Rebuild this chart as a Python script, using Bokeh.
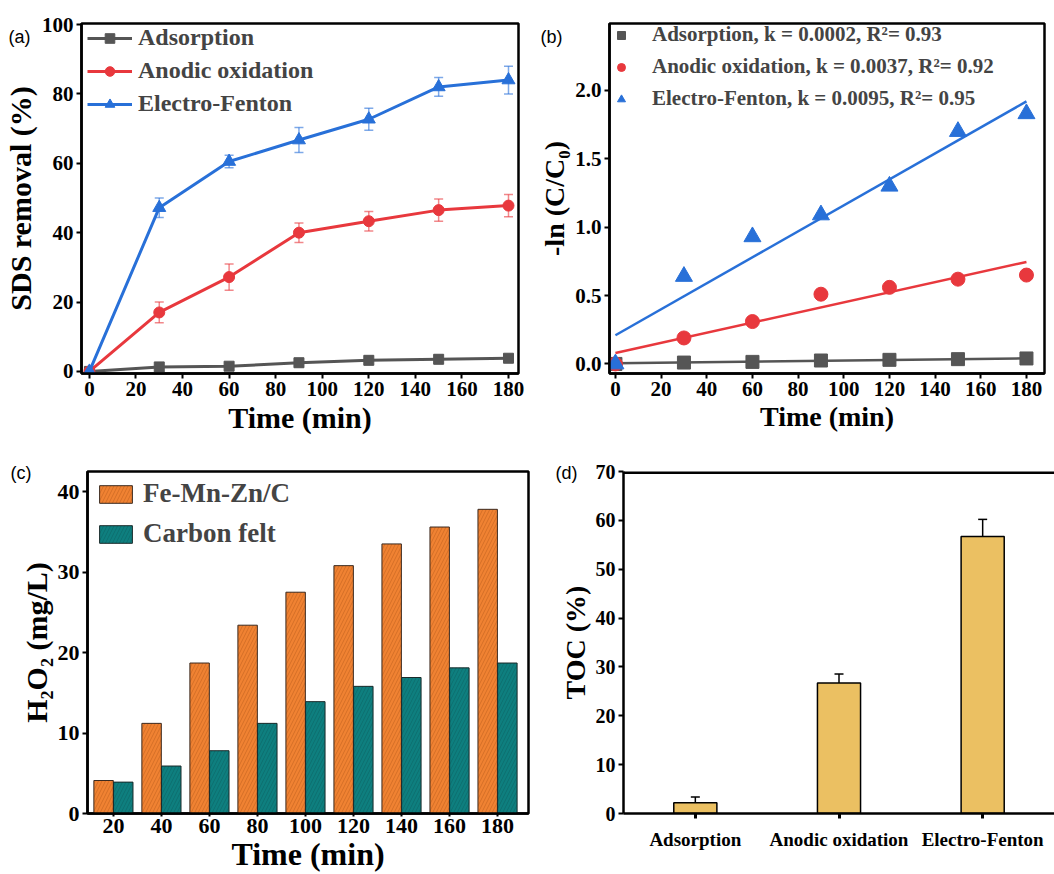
from bokeh.plotting import figure
from bokeh.layouts import row, column
from bokeh.models import (Legend, LegendItem, Whisker, TeeHead, ColumnDataSource, Label,
                          FixedTicker, Range1d, FactorRange, NumeralTickFormatter, Span)
from bokeh.transform import dodge
from bokeh.embed import file_html
from bokeh.resources import INLINE

# ---------------- data ----------------
time_min = [0, 30, 60, 90, 120, 150, 180]
ads_removal = [0, 1.3, 1.5, 2.5, 3.2, 3.5, 3.8]
ads_err = [0, 0.6, 0.8, 1.2, 1.2, 1.2, 1.0]
ao_removal = [0, 17.0, 27.2, 40.0, 43.3, 46.5, 47.8]
ao_err = [0, 3.0, 3.8, 2.8, 2.8, 3.2, 3.2]
ef_removal = [0, 47.2, 60.5, 66.7, 72.7, 82.0, 84.0]
ef_err = [0, 2.8, 1.8, 3.6, 3.2, 2.7, 4.0]

ads_ln = [0, 0.01, 0.015, 0.025, 0.03, 0.035, 0.04]
ao_ln = [0, 0.19, 0.31, 0.51, 0.56, 0.62, 0.65]
ef_ln = [0, 0.64, 0.93, 1.09, 1.30, 1.70, 1.83]
k_vals = [0.0002, 0.0037, 0.0095]
fit_intercepts = [0.005, 0.08, 0.21]
fit_range = [0, 180]
kinetic_labels = ["Adsorption, k = 0.0002, R\u00b2= 0.93",
                  "Anodic oxidation, k = 0.0037, R\u00b2= 0.92",
                  "Electro-Fenton, k = 0.0095, R\u00b2= 0.95"]

h2o2_time = [20, 40, 60, 80, 100, 120, 140, 160, 180]
femnzn_h2o2 = [4.1, 11.2, 18.7, 23.4, 27.5, 30.8, 33.5, 35.6, 37.8]
cfelt_h2o2 = [3.9, 5.9, 7.8, 11.2, 13.9, 15.8, 16.9, 18.1, 18.7]

toc_cats = ["Adsorption", "Anodic oxidation", "Electro-Fenton"]
toc_vals = [2.2, 26.7, 56.7]
toc_err = [1.2, 1.85, 3.5]

SERIF = "Liberation Serif"
SANS = "Liberation Sans"
GRAY, RED, BLUE = "#555555", "#E8383D", "#2870D8"
ORANGE, TEAL, GOLD = "#F08232", "#0E7F7F", "#EBC062"


def style(p, tick_px, label_px, outline=True):
    for ax in list(p.xaxis) + list(p.yaxis):
        ax.axis_line_width = 2.5
        ax.axis_line_color = "black"
        ax.major_tick_line_width = 2
        ax.major_tick_out = 5
        ax.major_tick_in = 0
        ax.minor_tick_line_color = None
        ax.major_label_text_font = SERIF
        ax.major_label_text_font_style = "bold"
        ax.major_label_text_font_size = f"{tick_px}px"
        ax.major_label_text_color = "black"
        ax.axis_label_text_font = SERIF
        ax.axis_label_text_font_style = "bold"
        ax.axis_label_text_font_size = f"{label_px}px"
        ax.axis_label_text_color = "black"
        ax.axis_label_standoff = 2
        ax.major_label_standoff = 3
    p.xgrid.visible = False
    p.ygrid.visible = False
    if outline:
        p.outline_line_color = "black"
        p.outline_line_width = 2.5
    else:
        p.outline_line_color = None
    p.background_fill_color = "white"
    p.border_fill_color = "white"


def panel_label(p, txt, x, y):
    # placed in the (empty) top side panel so that it is not clipped by the frame
    p.add_layout(Label(x=x, y=y, x_units="canvas", y_units="canvas", text=txt,
                       text_font=SANS, text_font_size="18px", text_line_height=0.8,
                       text_baseline="middle", text_align="left", text_color="black"), "above")


# ---------------- (a) ----------------
pa = figure(width=527, height=440, output_backend="svg", toolbar_location=None,
            x_range=Range1d(-3.4, 184.3), y_range=Range1d(-0.6, 100.3),
            min_border_left=79, min_border_right=9, min_border_top=23, min_border_bottom=67)
items = []
for name, vals, errs, col, marker, size in [
        ("Adsorption", ads_removal, ads_err, GRAY, "square", 10),
        ("Anodic oxidation", ao_removal, ao_err, RED, "circle", 11),
        ("Electro-Fenton", ef_removal, ef_err, BLUE, "triangle", 13)]:
    src = ColumnDataSource(dict(t=time_min, v=vals,
                                lo=[a - b for a, b in zip(vals, errs)],
                                hi=[a + b for a, b in zip(vals, errs)]))
    pa.add_layout(Whisker(base="t", upper="hi", lower="lo", source=src,
                          line_color=col, line_alpha=0.6, line_width=1.5,
                          upper_head=TeeHead(size=9, line_color=col, line_alpha=0.6, line_width=1.5),
                          lower_head=TeeHead(size=9, line_color=col, line_alpha=0.6, line_width=1.5)))
    ln = pa.line("t", "v", source=src, line_color=col, line_width=3)
    sc = pa.scatter("t", "v", source=src, marker=marker, size=size, fill_color=col, line_color=col)
    items.append(LegendItem(label=name, renderers=[ln, sc]))
pa.xaxis.axis_label = "Time (min)"
pa.yaxis.axis_label = "SDS removal (%)"
pa.xaxis.ticker = FixedTicker(ticks=[0, 20, 40, 60, 80, 100, 120, 140, 160, 180])
pa.yaxis.ticker = FixedTicker(ticks=[0, 20, 40, 60, 80, 100])
style(pa, 21, 30)
lega = Legend(items=items, location=(6, 256), glyph_width=45, glyph_height=24, label_height=24,
              spacing=6, padding=4, margin=0, label_standoff=6,
              label_text_font=SERIF, label_text_font_style="bold", label_text_font_size="24px",
              background_fill_alpha=0, border_line_color=None)
pa.add_layout(lega)
panel_label(pa, "(a)", 8, 36)

# ---------------- (b) ----------------
pb = figure(width=527, height=440, output_backend="svg", toolbar_location=None,
            x_range=Range1d(-2.6, 187.9), y_range=Range1d(-0.07, 2.49),
            min_border_left=82, min_border_right=10, min_border_top=17, min_border_bottom=63)
items_b = []
for idx, (vals, col, marker, size) in enumerate([
        (ads_ln, GRAY, "square", 13),
        (ao_ln, RED, "circle", 14),
        (ef_ln, BLUE, "triangle", 17)]):
    k = k_vals[idx]
    b0 = fit_intercepts[idx]
    pb.line(fit_range, [b0 + k * t for t in fit_range], line_color=col, line_width=2.5)
    sc = pb.scatter(time_min, vals, marker=marker, size=size, fill_color=col, line_color=col)
    items_b.append(LegendItem(label=kinetic_labels[idx], renderers=[sc]))
pb.xaxis.axis_label = "Time (min)"
pb.yaxis.axis_label = "-ln (C/C\u2080)"
pb.xaxis.ticker = FixedTicker(ticks=[0, 20, 40, 60, 80, 100, 120, 140, 160, 180])
pb.yaxis.ticker = FixedTicker(ticks=[0, 0.5, 1.0, 1.5, 2.0])
pb.yaxis.formatter = NumeralTickFormatter(format="0.0")
style(pb, 21, 28)
legb = Legend(items=items_b, location=(2, 262), glyph_width=20, glyph_height=24, label_height=24,
              spacing=7, padding=4, margin=0, label_standoff=21,
              label_text_font=SERIF, label_text_font_style="bold", label_text_font_size="21px",
              background_fill_alpha=0, border_line_color=None)
pb.add_layout(legb)
panel_label(pb, "(b)", 13, 36)

# ---------------- (c) ----------------
pc = figure(width=530, height=434, output_backend="svg", toolbar_location=None,
            x_range=Range1d(9.2, 192.9), y_range=Range1d(0, 42.5),
            min_border_left=87, min_border_right=2, min_border_top=23, min_border_bottom=58)
srcc = ColumnDataSource(dict(t=h2o2_time, fe=femnzn_h2o2, cf=cfelt_h2o2))
r1 = pc.vbar(x=dodge("t", -4.1), top="fe", width=8.1, source=srcc, fill_color=ORANGE,
             line_color="#3a2a20", line_width=1, hatch_pattern="/", hatch_color="#B85A1A",
             hatch_alpha=0.5, hatch_scale=7, hatch_weight=1)
r2 = pc.vbar(x=dodge("t", 4.1), top="cf", width=8.1, source=srcc, fill_color=TEAL,
             line_color="#1a2a2a", line_width=1, hatch_pattern="/", hatch_color="#0A5E5E",
             hatch_alpha=0.5, hatch_scale=7, hatch_weight=1)
pc.xaxis.axis_label = "Time (min)"
pc.yaxis.axis_label = "H\u2082O\u2082 (mg/L)"
pc.xaxis.ticker = FixedTicker(ticks=h2o2_time)
pc.yaxis.ticker = FixedTicker(ticks=[0, 10, 20, 30, 40])
style(pc, 22, 30)
pc.xaxis.axis_label_text_font_size = "32px"
pc.xaxis.major_tick_out = 3
pc.xaxis.major_label_standoff = 2
pc.xaxis.axis_label_standoff = 0
legc = Legend(items=[LegendItem(label="Fe-Mn-Zn/C", renderers=[r1]),
                     LegendItem(label="Carbon felt", renderers=[r2])],
              location=(8, 264), glyph_width=41, glyph_height=22, label_height=28,
              spacing=9, padding=4, margin=0, label_standoff=7,
              label_text_font=SERIF, label_text_font_style="bold", label_text_font_size="27px",
              background_fill_alpha=0, border_line_color=None)
pc.add_layout(legc)
panel_label(pc, "(c)", 10, 32)

# ---------------- (d) ----------------
pd = figure(width=524, height=434, output_backend="svg", toolbar_location=None,
            x_range=FactorRange(*toc_cats), y_range=Range1d(0, 70),
            min_border_left=93, min_border_right=0, min_border_top=31, min_border_bottom=58)
srcd = ColumnDataSource(dict(c=toc_cats, v=toc_vals,
                             lo=[a - b for a, b in zip(toc_vals, toc_err)],
                             hi=[a + b for a, b in zip(toc_vals, toc_err)]))
pd.vbar(x="c", top="v", width=0.3, source=srcd, fill_color=GOLD, line_color="black", line_width=1.5)
pd.add_layout(Whisker(base="c", upper="hi", lower="lo", source=srcd, line_color="black", line_width=1.5,
                      upper_head=TeeHead(size=9, line_color="black", line_width=1.5),
                      lower_head=TeeHead(size=9, line_color="black", line_width=1.5)))
pd.yaxis.axis_label = "TOC (%)"
pd.yaxis.ticker = FixedTicker(ticks=[0, 10, 20, 30, 40, 50, 60, 70])
style(pd, 20, 28, outline=False)
pd.xaxis.major_label_text_font_size = "19px"
pd.xaxis.major_label_standoff = 10
pd.xaxis.major_tick_line_width = 3
pd.add_layout(Span(location=70, dimension="width", line_color="black", line_width=5))
panel_label(pd, "(d)", 25, 32)

layout = column(row(pa, pb), row(pc, pd))
open("out.html", "w").write(file_html(layout, INLINE))
